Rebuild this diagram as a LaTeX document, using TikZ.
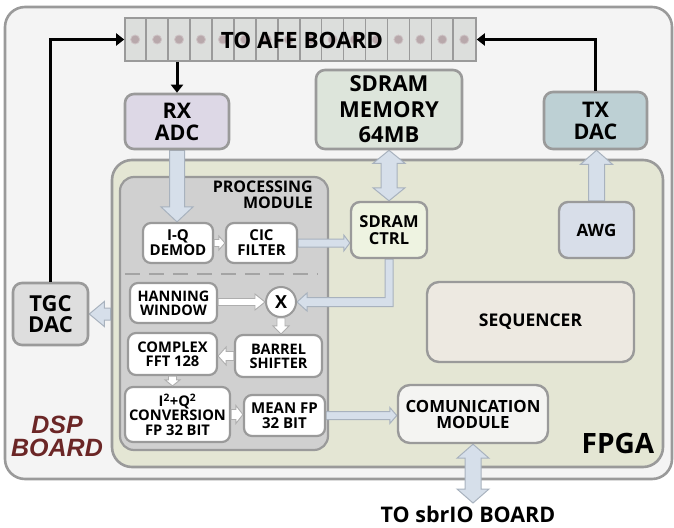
\documentclass[tikz,border=0pt]{standalone}
\usepackage{fontspec}
\setmainfont{Open Sans}
\newfontfamily\dspfont{Liberation Sans}
\usetikzlibrary{calc,arrows.meta}
\pgfdeclarelayer{bg}
\pgfdeclarelayer{mid}
\pgfsetlayers{bg,mid,main}
\definecolor{bordergray}{HTML}{9A9A9A}
\definecolor{outerfill}{HTML}{F4F4F4}
\definecolor{fpgafill}{HTML}{E4E6D4}
\definecolor{procfill}{HTML}{D0D0D0}
\definecolor{stripfill}{HTML}{DCDEDC}
\definecolor{dotcol}{HTML}{B8A8AB}
\definecolor{rxfill}{HTML}{DDD8E6}
\definecolor{memfill}{HTML}{DDE5DB}
\definecolor{txfill}{HTML}{BDD0D4}
\definecolor{tgcfill}{HTML}{DEDEDE}
\definecolor{ctrlfill}{HTML}{EEF3E1}
\definecolor{awgfill}{HTML}{D8DEE9}
\definecolor{seqfill}{HTML}{EDE9E1}
\definecolor{commfill}{HTML}{F4F4F2}
\definecolor{arrowblue}{HTML}{D6DFEA}
\definecolor{arrowedge}{HTML}{A8B2BE}
\definecolor{dspred}{HTML}{6B2626}
\newcommand\fsz[2]{\fontsize{#1}{#2}\selectfont}
% block arrow: style, start, end, shaft half width, head half width, head length
\newcommand\blockarrow[6]{%
  \coordinate (bas) at #2; \coordinate (bae) at #3;
  \coordinate (bah) at ($(bae)!#6!(bas)$);
  \draw[#1] ($(bas)!#4!90:(bae)$) -- ($(bah)!#4!90:(bae)$) -- ($(bah)!#5!90:(bae)$) -- (bae)
    -- ($(bah)!#5!-90:(bae)$) -- ($(bah)!#4!-90:(bae)$) -- ($(bas)!#4!-90:(bae)$) -- cycle;}
% double-headed block arrow
\newcommand\dblarrow[6]{%
  \coordinate (bas) at #2; \coordinate (bae) at #3;
  \coordinate (bah) at ($(bae)!#6!(bas)$);
  \coordinate (bag) at ($(bas)!#6!(bae)$);
  \draw[#1] (bas) -- ($(bag)!#5!90:(bae)$) -- ($(bag)!#4!90:(bae)$) -- ($(bah)!#4!90:(bae)$) -- ($(bah)!#5!90:(bae)$) -- (bae)
    -- ($(bah)!#5!-90:(bae)$) -- ($(bah)!#4!-90:(bae)$) -- ($(bag)!#4!-90:(bae)$) -- ($(bag)!#5!-90:(bae)$) -- cycle;}
\begin{document}
\begin{tikzpicture}[x=1pt,y=-1pt,
  box/.style={draw=bordergray, line width=2.6pt, rounded corners=9pt, align=center, inner sep=0pt, font=\bfseries},
  smallbox/.style={box, fill=white, line width=2.2pt, rounded corners=8pt},
  bluearrow/.style={fill=arrowblue, draw=arrowedge, line width=1pt, line join=miter},
  whitearrow/.style={fill=white, draw=bordergray!80, line width=0.9pt, line join=miter},
  blackline/.style={line width=3pt, -{Triangle[width=12pt,length=8pt]}},
  cellline/.style={draw=bordergray, line width=1.6pt}]
\useasboundingbox (0,0) rectangle (674,527);

% containers
\begin{pgfonlayer}{bg}
\node[box, fill=outerfill, rounded corners=20pt, minimum width=667pt, minimum height=472pt] (outer) at (338.5,243) {};
\node[box, fill=fpgafill, rounded corners=20pt, minimum width=551pt, minimum height=307pt] (fpga) at (387.5,313.5) {};
\node[box, fill=procfill, rounded corners=14pt, line width=2.2pt, minimum width=208pt, minimum height=273pt] (proc) at (224,313.5) {};
\draw[bordergray!90, line width=2.2pt, dash pattern=on 15pt off 9pt] (proc.west |- 0,274) ++(6,0) -- (318,274);
\end{pgfonlayer}
\node[font=\bfseries\fsz{16}{15.5}, anchor=north east, align=right, inner sep=0pt] (plabel) at (313,181) {PROCESSING\\MODULE};

% connector strip
\node[draw=bordergray, line width=1.6pt, fill=stripfill, minimum width=351pt, minimum height=43pt, inner sep=0pt] (strip) at (300.5,39.5) {};
\foreach \i in {1,...,15}
  \draw[cellline] ($(strip.north west)+(\i*21.9375,0)$) -- ($(strip.south west)+(\i*21.9375,0)$);
\foreach \i in {0,...,15}
  \draw[fill=dotcol, draw=dotcol!70!white, line width=0.8pt] ($(strip.west)+(\i*21.9375+10.97,0)$) circle (4.5pt);
\node[font=\bfseries\fsz{22.5}{24}, inner sep=0pt] (afe) at (302,40) {TO AFE BOARD};

% coordinates for free ends
\coordinate (sbrio) at (473,503);

% boxes
\node[box, fill=rxfill, font=\bfseries\fsz{21.5}{22}, minimum width=104pt, minimum height=55pt] (rx) at (177,121.5) {RX\\ADC};
\node[box, fill=memfill, font=\bfseries\fsz{22}{25.5}, minimum width=146pt, minimum height=79pt] (mem) at (389,109.5) {SDRAM\\MEMORY\\64MB};
\node[box, fill=txfill, font=\bfseries\fsz{21.5}{22}, minimum width=103pt, minimum height=57pt] (tx) at (595.5,120.5) {TX\\DAC};
\node[box, fill=tgcfill, font=\bfseries\fsz{22}{21}, minimum width=75pt, minimum height=62pt] (tgc) at (50.5,314) {TGC\\DAC};
\node[box, fill=ctrlfill, font=\bfseries\fsz{16.5}{16.5}, line width=2.4pt, minimum width=76pt, minimum height=56pt] (ctrl) at (389,230) {SDRAM\\CTRL};
\node[box, fill=awgfill, font=\bfseries\fsz{17}{17}, line width=2.4pt, minimum width=75pt, minimum height=56pt] (awg) at (596.5,230) {AWG};
\node[box, fill=seqfill, font=\bfseries\fsz{17.5}{17}, line width=2.4pt, rounded corners=12pt, minimum width=207pt, minimum height=80pt] (seq) at (530.5,322) {SEQUENCER};
\node[box, fill=commfill, font=\bfseries\fsz{16.8}{16}, line width=2.4pt, rounded corners=12pt, minimum width=150pt, minimum height=58pt] (comm) at (473,414) {COMUNICATION\\MODULE};

\node[smallbox, font=\bfseries\fsz{15}{15}, minimum width=70pt, minimum height=40pt] (iq) at (178,243) {I-Q\\DEMOD};
\node[smallbox, font=\bfseries\fsz{15}{15}, minimum width=71pt, minimum height=40pt] (cic) at (261.5,243) {CIC\\FILTER};
\node[smallbox, font=\bfseries\fsz{14.5}{14}, minimum width=87pt, minimum height=40pt] (han) at (173.5,303) {HANNING\\WINDOW};
\node[draw=bordergray, line width=2pt, fill=white, circle, minimum size=30pt, inner sep=0pt, font=\bfseries\fsz{18}{18}] (xm) at (281,302) {X};
\node[smallbox, font=\bfseries\fsz{14.5}{14}, minimum width=87pt, minimum height=42pt] (bar) at (278.5,356) {BARREL\\SHIFTER};
\node[smallbox, font=\bfseries\fsz{14.7}{14}, minimum width=89pt, minimum height=42pt] (fft) at (172.5,354) {COMPLEX\\FFT 128};
\node[smallbox, font=\bfseries\fsz{14.7}{14.5}, minimum width=105pt, minimum height=55pt] (conv) at (177.5,414.5) {I\textsuperscript{2}+Q\textsuperscript{2}\\CONVERSION\\FP 32 BIT};
\node[smallbox, font=\bfseries\fsz{15}{15}, minimum width=81pt, minimum height=41pt] (mean) at (284.5,415.5) {MEAN FP\\32 BIT};

% blue block arrows (under the boxes)
\begin{pgfonlayer}{mid}
\blockarrow{bluearrow}{(rx.south)}{($(rx.south |- iq.north)$)}{7.5pt}{16pt}{15pt}
\dblarrow{bluearrow}{(mem.south)}{(ctrl.north)}{8pt}{16pt}{13pt}
\blockarrow{bluearrow}{(cic.east)}{($(ctrl.west |- cic.east)$)}{4pt}{8pt}{6pt}
\blockarrow{bluearrow}{(awg.north)}{($(awg.north |- tx.south)$)}{8pt}{16pt}{14pt}
\blockarrow{bluearrow}{($(fpga.west |- tgc.east)$)}{(tgc.east)}{6pt}{12.5pt}{15pt}
\blockarrow{bluearrow}{(mean.east)}{($(comm.west |- mean.east)$)}{4pt}{8pt}{7pt}
\dblarrow{bluearrow}{(comm.south)}{(sbrio)}{8pt}{16pt}{14pt}
\draw[bluearrow] let \p1=(ctrl.south), \p2=(xm.east) in
  (\x1-4pt,\y1) -- (\x1+4pt,\y1) -- (\x1+4pt,\y2-4.5pt) -- (\x2+10pt,\y2-4.5pt) -- (\x2+10pt,\y2-9pt)
  -- (\x2,\y2) -- (\x2+10pt,\y2+9pt) -- (\x2+10pt,\y2+4.5pt) -- (\x1-4pt,\y2+4.5pt) -- cycle;
\end{pgfonlayer}

% white arrows inside processing module
\blockarrow{whitearrow}{(iq.east)}{($(cic.west |- iq.east)$)}{3.5pt}{7pt}{6pt}
\blockarrow{whitearrow}{($(han.east |- xm.west)$)}{(xm.west)}{3.5pt}{8pt}{10pt}
\blockarrow{whitearrow}{(xm.south)}{($(xm.south |- bar.north)$)}{4pt}{8pt}{8pt}
\blockarrow{whitearrow}{(bar.west)}{($(fft.east |- bar.west)$)}{4.5pt}{9pt}{8pt}
\blockarrow{whitearrow}{(fft.south)}{($(fft.south |- conv.north)$)}{4pt}{7.5pt}{6pt}
\blockarrow{whitearrow}{(conv.east)}{($(mean.west |- conv.east)$)}{5pt}{9pt}{7pt}

% black signal lines
\draw[blackline] ($(rx.north |- strip.south)$) -- (rx.north);
\draw[blackline] (tgc.north) |- (strip.west);
\draw[blackline] (tx.north) |- (strip.east);

% labels
\node[font=\bfseries\fsz{28}{28}, inner sep=0pt] (fpgalabel) at (618,443) {FPGA};
\node[font=\bfseries\fsz{21.5}{22}, inner sep=0pt] (sbriolabel) at (468,514) {TO sbrIO BOARD};
\node[text=dspred, align=center, inner sep=0pt, font=\dspfont\bfseries\itshape\fsz{25}{23}] (dsplabel) at (57,436) {DSP\\BOARD};
\end{tikzpicture}
\end{document}
